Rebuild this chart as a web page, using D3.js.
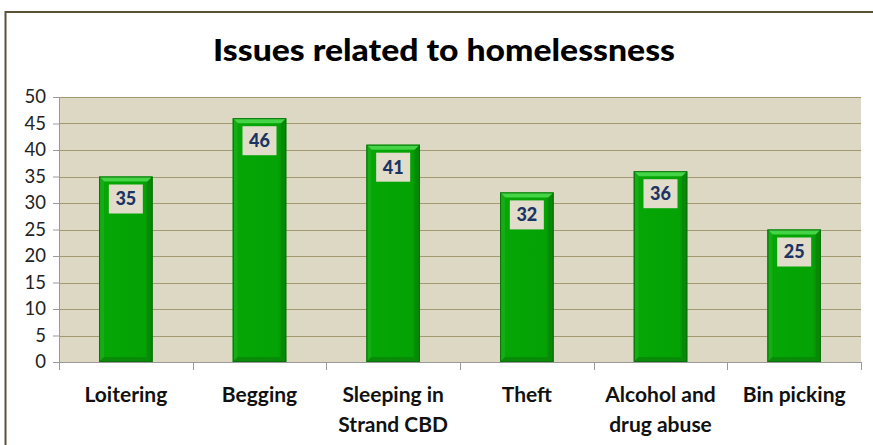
<!DOCTYPE html>
<html>
<head>
<meta charset="utf-8">
<script src="https://cdn.jsdelivr.net/npm/d3@7"></script>
<style>
  html, body { margin: 0; padding: 0; background: #fff; }
  svg { display: block; }
</style>
</head>
<body>
<svg id="chart" width="873" height="445"></svg>
<script>
// Survey results: issues related to homelessness
const categories = [["Loitering"], ["Begging"], ["Sleeping in", "Strand CBD"], ["Theft"], ["Alcohol and", "drug abuse"], ["Bin picking"]];
const values = [35, 46, 41, 32, 36, 25];
const yTicks = [0, 5, 10, 15, 20, 25, 30, 35, 40, 45, 50];
const title = "Issues related to homelessness";

const FONT = "Lato, 'Open Sans', 'Liberation Sans', sans-serif";
const svg = d3.select("#chart");

const plot = { left: 59, right: 861, top: 97, bottom: 362 };
const keys = categories.map((c, i) => i);

const x = d3.scaleBand().domain(keys).range([plot.left, plot.right]).paddingInner(0).paddingOuter(0);
const y = d3.scaleLinear().domain([0, 50]).range([plot.bottom, plot.top]);

// outer chart frame
svg.append("rect")
  .attr("x", 5.5).attr("y", 12).attr("width", 900).attr("height", 500)
  .attr("fill", "#fff").attr("stroke", "#5b5238").attr("stroke-width", 2);

// title
svg.append("text")
  .attr("x", 444).attr("y", 61)
  .attr("text-anchor", "middle")
  .attr("font-family", FONT).attr("font-weight", "900")
  .attr("font-size", 31).attr("fill", "#000")
  .attr("textLength", 462).attr("lengthAdjust", "spacingAndGlyphs")
  .text(title);

// plot background
svg.append("rect")
  .attr("x", plot.left).attr("y", plot.top)
  .attr("width", plot.right - plot.left).attr("height", plot.bottom - plot.top)
  .attr("fill", "#ddd8c4");

// horizontal gridlines
svg.append("g").selectAll("line").data(yTicks.filter(t => t > 0)).join("line")
  .attr("x1", plot.left).attr("x2", plot.right)
  .attr("y1", d => Math.round(y(d)) + 0.5).attr("y2", d => Math.round(y(d)) + 0.5)
  .attr("stroke", "#a39a72").attr("stroke-width", 1.2);

// y axis
const yAxis = d3.axisLeft(y).tickValues(yTicks).tickSize(6).tickPadding(7);
const gy = svg.append("g").attr("transform", `translate(${plot.left},0)`).call(yAxis);
gy.select(".domain").attr("stroke", "#9a9a9a");
gy.selectAll(".tick line").attr("stroke", "#9a9a9a");
gy.selectAll(".tick text")
  .attr("font-family", FONT).attr("font-size", 18.5).attr("fill", "#222");

// x axis line with tick marks at category boundaries
svg.append("line")
  .attr("x1", plot.left).attr("x2", plot.right)
  .attr("y1", plot.bottom + 0.5).attr("y2", plot.bottom + 0.5)
  .attr("stroke", "#9a9a9a");
const bounds = keys.map(k => x(k)).concat([x(keys[keys.length - 1]) + x.bandwidth()]);
svg.append("g").selectAll("line").data(bounds).join("line")
  .attr("x1", d => Math.round(d) + 0.5).attr("x2", d => Math.round(d) + 0.5)
  .attr("y1", plot.bottom).attr("y2", plot.bottom + 8)
  .attr("stroke", "#9a9a9a");

// category labels
const xl = svg.append("g");
categories.forEach((lines, i) => {
  const t = xl.append("text")
    .attr("x", x(i) + x.bandwidth() / 2)
    .attr("y", 402)
    .attr("text-anchor", "middle")
    .attr("font-family", FONT).attr("font-weight", "bold")
    .attr("font-size", 21).attr("fill", "#111");
  lines.forEach((ln, j) => {
    t.append("tspan").attr("x", x(i) + x.bandwidth() / 2).attr("dy", j === 0 ? 0 : 30).text(ln);
  });
});

// bar gradients
const defs = svg.append("defs");
const g1 = defs.append("linearGradient").attr("id", "barFill").attr("x1", 0).attr("x2", 1).attr("y1", 0).attr("y2", 0);
g1.append("stop").attr("offset", "0%").attr("stop-color", "#0a8f0a");
g1.append("stop").attr("offset", "12%").attr("stop-color", "#06a606");
g1.append("stop").attr("offset", "85%").attr("stop-color", "#04a204");
g1.append("stop").attr("offset", "100%").attr("stop-color", "#077d07");

const barW = x.bandwidth() * 0.4;
const bev = 5;
const bars = svg.append("g").selectAll("g").data(values).join("g")
  .attr("transform", (d, i) => `translate(${x(i) + (x.bandwidth() - barW) / 2},0)`);

bars.append("rect")
  .attr("x", 0).attr("y", d => y(d))
  .attr("width", barW).attr("height", d => plot.bottom - y(d))
  .attr("fill", "url(#barFill)");

// bevel edges: top light, sides and bottom darker
bars.append("path")
  .attr("d", d => `M0,${y(d)} L${barW},${y(d)} L${barW - bev},${y(d) + bev} L${bev},${y(d) + bev} Z`)
  .attr("fill", "#45d445");
bars.append("path")
  .attr("d", d => `M0,${y(d)} L${bev},${y(d) + bev} L${bev},${plot.bottom - bev} L0,${plot.bottom} Z`)
  .attr("fill", "#14ad14");
bars.append("path")
  .attr("d", d => `M${barW},${y(d)} L${barW - bev},${y(d) + bev} L${barW - bev},${plot.bottom - bev} L${barW},${plot.bottom} Z`)
  .attr("fill", "#078807");
bars.append("path")
  .attr("d", d => `M0,${plot.bottom} L${bev},${plot.bottom - bev} L${barW - bev},${plot.bottom - bev} L${barW},${plot.bottom} Z`)
  .attr("fill", "#088c08");
bars.append("rect")
  .attr("x", 0.5).attr("y", d => y(d) + 0.5)
  .attr("width", barW - 1).attr("height", d => plot.bottom - y(d) - 1)
  .attr("fill", "none").attr("stroke", "#0b6f0b").attr("stroke-width", 1);

// value labels
const boxW = 34, boxH = 29;
bars.append("rect")
  .attr("x", (barW - boxW) / 2).attr("y", d => y(d) + 8)
  .attr("width", boxW).attr("height", boxH)
  .attr("fill", "#e1ddca");
bars.append("text")
  .attr("x", barW / 2).attr("y", d => y(d) + 8 + boxH / 2)
  .attr("dy", "0.36em")
  .attr("text-anchor", "middle")
  .attr("font-family", FONT).attr("font-weight", "900")
  .attr("font-size", 18).attr("fill", "#1c3464")
  .text(d => d);
</script>
</body>
</html>
